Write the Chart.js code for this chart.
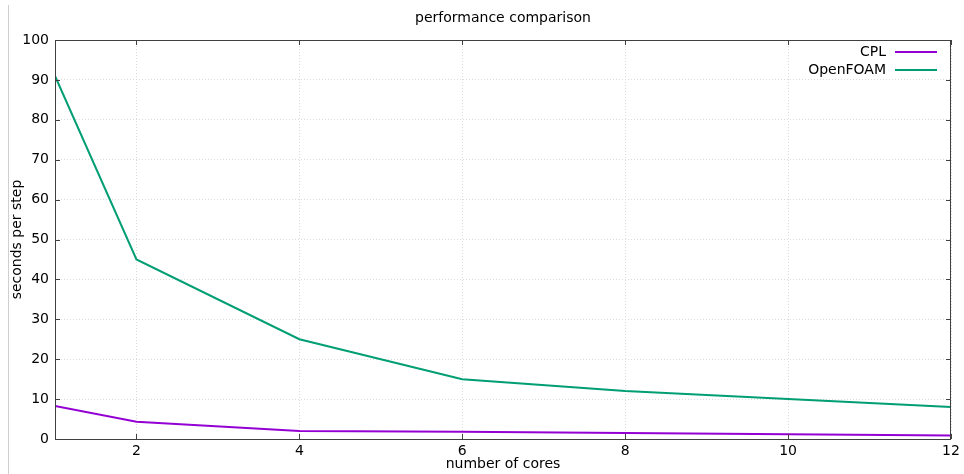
<!DOCTYPE html>
<html>
<head>
<meta charset="utf-8">
<title>performance comparison</title>
<script src="https://cdn.jsdelivr.net/npm/chart.js@4.4.0/dist/chart.umd.min.js"></script>
<style>
  html, body { margin: 0; padding: 0; background: #fff; }
  #wrap { position: relative; width: 964px; height: 474px; }
  #edge { position: absolute; left: 8px; top: 5px; width: 1px; height: 469px; background: #cfcfcf; }
</style>
</head>
<body>
<div id="wrap">
  <canvas id="grafico" width="964" height="474"></canvas>
  <div id="edge"></div>
</div>
<script>
// Número de cores e tempo por passo
const cores = [1, 2, 4, 6, 8, 10, 12];
const cpl = [8.3, 4.3, 2.0, 1.8, 1.5, 1.2, 0.9];
const openfoam = [91, 45, 25, 15, 12, 10, 8];

const xTicks = [2, 4, 6, 8, 10, 12];
const yTicks = [0, 10, 20, 30, 40, 50, 60, 70, 80, 90, 100];

const fonte = 'DejaVu Sans, sans-serif';

const series = [
    { nome: 'CPL', valores: cpl, cor: '#9400d3' },
    { nome: 'OpenFOAM', valores: openfoam, cor: '#009e73' },
];

// Moldura estilo gnuplot: borda, ticks para dentro, legenda e títulos
const moldura = {
    id: 'moldura',
    afterDraw(chart) {
        const ctx = chart.ctx;
        const a = chart.chartArea;
        const sx = chart.scales.x;
        const sy = chart.scales.y;
        ctx.save();

        ctx.strokeStyle = '#404040';
        ctx.lineWidth = 1;
        ctx.strokeRect(a.left + 0.5, a.top + 0.5, a.right - a.left - 1, a.bottom - a.top);

        const tam = 5;
        ctx.beginPath();
        xTicks.forEach(v => {
            const px = Math.round(sx.getPixelForValue(v)) + 0.5;
            ctx.moveTo(px, a.bottom); ctx.lineTo(px, a.bottom - tam);
            ctx.moveTo(px, a.top); ctx.lineTo(px, a.top + tam);
        });
        yTicks.forEach(v => {
            const py = Math.round(sy.getPixelForValue(v)) + 0.5;
            ctx.moveTo(a.left, py); ctx.lineTo(a.left + tam, py);
            ctx.moveTo(a.right, py); ctx.lineTo(a.right - tam, py);
        });
        ctx.stroke();

        // legenda no canto superior direito
        ctx.font = '14px ' + fonte;
        ctx.textAlign = 'right';
        ctx.textBaseline = 'middle';
        series.forEach((s, i) => {
            const y = a.top + 12 + i * 18;
            ctx.fillStyle = '#000';
            ctx.fillText(s.nome, a.right - 65, y);
            ctx.strokeStyle = s.cor;
            ctx.lineWidth = 2;
            ctx.beginPath();
            ctx.moveTo(a.right - 56, y);
            ctx.lineTo(a.right - 14, y);
            ctx.stroke();
        });

        // títulos
        ctx.fillStyle = '#000';
        ctx.font = '14px ' + fonte;
        ctx.textAlign = 'center';
        ctx.fillText('performance comparison', (a.left + a.right) / 2, 18);
        ctx.fillText('number of cores', (a.left + a.right) / 2, 464);
        ctx.translate(17, (a.top + a.bottom) / 2);
        ctx.rotate(-Math.PI / 2);
        ctx.fillText('seconds per step', 0, 0);
        ctx.restore();
    }
};

const grade = { color: '#dcdcdc', drawTicks: false, lineWidth: 1 };
const bordaPontilhada = { display: false, dash: [1, 2] };

const ctx = document.getElementById('grafico').getContext('2d');
new Chart(ctx, {
    type: 'line',
    data: {
        datasets: series.map(s => ({
            label: s.nome,
            data: cores.map((c, i) => ({ x: c, y: s.valores[i] })),
            borderColor: s.cor,
            borderWidth: 2,
            pointRadius: 0,
            tension: 0,
            fill: false,
        }))
    },
    options: {
        responsive: false,
        animation: false,
        layout: { padding: { top: 40, right: 13, left: 0, bottom: 0 } },
        plugins: {
            legend: { display: false },
            title: { display: false },
            tooltip: { enabled: false }
        },
        scales: {
            x: {
                type: 'linear',
                min: 1,
                max: 12,
                afterBuildTicks: scale => { scale.ticks = xTicks.map(v => ({ value: v })); },
                afterFit: scale => { scale.height = 35; },
                border: bordaPontilhada,
                grid: grade,
                ticks: { color: '#000', font: { family: fonte, size: 14 }, padding: 4, maxRotation: 0 }
            },
            y: {
                min: 0,
                max: 100,
                afterBuildTicks: scale => { scale.ticks = yTicks.map(v => ({ value: v })); },
                afterFit: scale => { scale.width = 55; },
                border: bordaPontilhada,
                grid: grade,
                ticks: { color: '#000', font: { family: fonte, size: 14 }, padding: 6 }
            }
        }
    },
    plugins: [moldura]
});
</script>
</body>
</html>
